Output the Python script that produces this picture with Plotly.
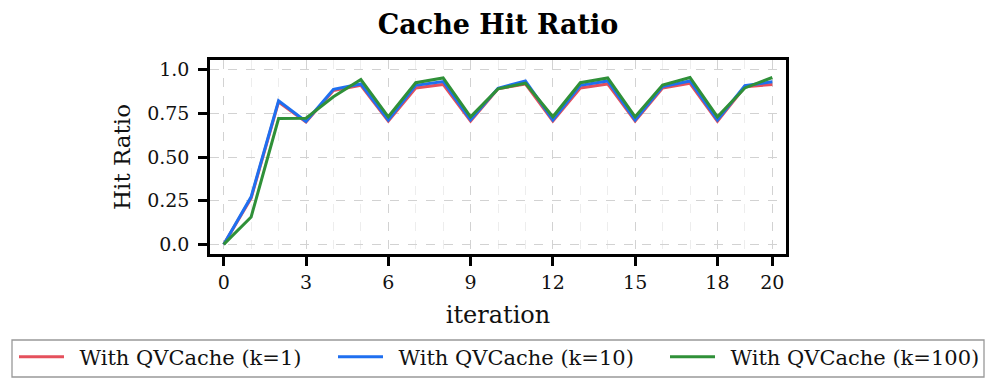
import plotly.graph_objects as go

iterations = list(range(21))
k1 = [0.0, 0.265, 0.815, 0.700, 0.880, 0.910, 0.705, 0.895, 0.915, 0.705, 0.890,
      0.918, 0.705, 0.895, 0.918, 0.705, 0.895, 0.922, 0.705, 0.902, 0.915]
k10 = [0.0, 0.272, 0.822, 0.703, 0.887, 0.918, 0.712, 0.910, 0.932, 0.712, 0.893,
       0.935, 0.712, 0.910, 0.935, 0.712, 0.903, 0.935, 0.712, 0.908, 0.930]
k100 = [0.0, 0.157, 0.720, 0.722, 0.845, 0.943, 0.730, 0.925, 0.952, 0.730, 0.890,
        0.922, 0.730, 0.925, 0.952, 0.730, 0.912, 0.955, 0.730, 0.895, 0.955]
names = ["With QVCache (k=1)", "With QVCache (k=10)", "With QVCache (k=100)"]
colors = ["#e5505c", "#1f6ff0", "#2f9038"]
x_ticks = [0, 3, 6, 9, 12, 15, 18, 20]
y_ticks = [0.0, 0.25, 0.5, 0.75, 1.0]
y_labels = ["0.0", "0.25", "0.50", "0.75", "1.0"]

font = "DejaVu Serif"
OFF = 8  # page body margin offset
W, H = 997 - OFF, 389 - OFF
# plot area in screen pixels: x 210..786, y 60..254
ML, MR, MT, MB = 210 - OFF, 997 - 786, 60 - OFF, 389 - 254
PW, PH = W - ML - MR, H - MT - MB

def px_x(p):
    return (p - OFF - ML) / PW

def px_y(p):
    return (H - MB - (p - OFF)) / PH

legend_ids = ["legend", "legend2", "legend3"]
legend_left_px = [14, 333, 665]

fig = go.Figure()
for ys, n, c, lg in zip([k1, k10, k100], names, colors, legend_ids):
    fig.add_trace(go.Scatter(x=iterations, y=ys, mode="lines", name="\u2002" + n,
                             line=dict(color=c, width=3), legend=lg))

leg_common = dict(orientation="h", yanchor="middle", xanchor="left",
                  bgcolor="rgba(0,0,0,0)", borderwidth=0,
                  font=dict(family=font, size=21, color="#111111"), itemwidth=45)
layout_legends = {}
for lg, lx in zip(legend_ids, legend_left_px):
    layout_legends[lg] = dict(leg_common, x=px_x(lx), y=px_y(357))

fig.update_layout(
    width=W, height=H,
    margin=dict(l=ML, r=MR, t=MT, b=MB, autoexpand=False),
    paper_bgcolor="white", plot_bgcolor="white",
    font=dict(family=font, color="#111111", size=19),
    title=dict(text="<b>Cache Hit Ratio</b>", x=px_x(498), xanchor="center",
               xref="paper", y=1 - (25 - OFF) / H, yanchor="middle",
               font=dict(family=font, size=27, color="black")),
    showlegend=True,
    **layout_legends,
    shapes=[dict(type="rect", xref="paper", yref="paper",
                 x0=px_x(12), x1=px_x(984), y0=px_y(377), y1=px_y(340),
                 line=dict(color="#999999", width=1.3), fillcolor="rgba(0,0,0,0)",
                 layer="above")],
)
fig.update_xaxes(
    range=[-0.5, 20.5], tickvals=x_ticks, ticktext=[str(t) for t in x_ticks],
    showline=True, linecolor="black", linewidth=2.5, mirror=True,
    ticks="outside", ticklen=9, tickwidth=2.5, tickcolor="black",
    showgrid=True, gridcolor="#d2d2d2", griddash="dash", gridwidth=1,
    minor=dict(tickvals=iterations, showgrid=True, gridcolor="#ededed", griddash="dash", ticks=""),
    zeroline=False,
    title=dict(text="iteration", font=dict(size=24), standoff=15),
    tickfont=dict(size=19),
)
fig.update_yaxes(
    range=[-0.055, 1.055], tickvals=y_ticks, ticktext=y_labels,
    showline=True, linecolor="black", linewidth=2.5, mirror=True,
    ticks="outside", ticklen=9, tickwidth=2.5, tickcolor="black",
    ticklabelstandoff=5,
    showgrid=True, gridcolor="#d2d2d2", griddash="dash", gridwidth=1,
    zeroline=False,
    title=dict(text="Hit Ratio", font=dict(size=23), standoff=11),
    tickfont=dict(size=19),
)
fig.write_html("out.html")
